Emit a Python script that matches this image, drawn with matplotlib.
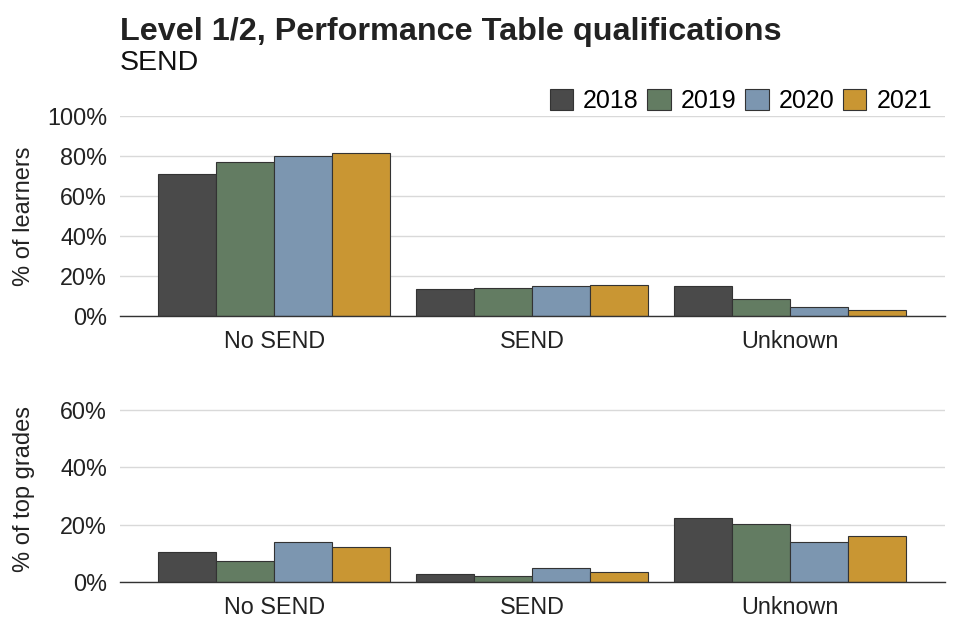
import matplotlib
matplotlib.use("Agg")
import matplotlib.pyplot as plt
import numpy as np
from matplotlib.patches import Patch

plt.rcParams['font.family'] = ['Liberation Sans', 'DejaVu Sans']

categories = ["No SEND", "SEND", "Unknown"]
years = ["2018", "2019", "2020", "2021"]
learners = {
    "2018": [71.0, 13.6, 15.0],
    "2019": [77.2, 13.8, 8.6],
    "2020": [80.0, 14.8, 4.7],
    "2021": [81.5, 15.5, 2.8],
}
top_grades = {
    "2018": [10.4, 2.7, 22.4],
    "2019": [7.4, 2.0, 20.2],
    "2020": [14.1, 4.9, 13.8],
    "2021": [12.2, 3.6, 16.2],
}
colors = ["#4a4a4a", "#637c62", "#7c96b0", "#c99633"]

fig = plt.figure(figsize=(9.6, 6.4), dpi=100)
ax1 = fig.add_axes([119.5/960, 1-316/640, (945-119.5)/960, 200/640])
ax2 = fig.add_axes([119.5/960, 1-582/640, (945-119.5)/960, (65*2.87)/640])

x = np.arange(len(categories))
bw = 0.225

def draw(ax, data, ymax, ticks, ylabel):
    for i, y in enumerate(years):
        ax.bar(x + (i - 1.5) * bw, data[y], width=bw, color=colors[i],
               edgecolor="#333333", linewidth=0.8, zorder=3)
    ax.set_xlim(-0.6, 2.6)
    ax.set_ylim(0, ymax)
    ax.set_yticks(ticks)
    ax.set_yticklabels([f"{t}%" for t in ticks])
    ax.set_xticks(x)
    ax.set_xticklabels(categories)
    ax.grid(axis="y", color="#d9d9d9", linewidth=1, zorder=0)
    for s in ["top", "right", "left"]:
        ax.spines[s].set_visible(False)
    ax.spines["bottom"].set_color("#333333")
    ax.spines["bottom"].set_linewidth(1)
    ax.spines["bottom"].set_zorder(4)
    ax.tick_params(axis="both", length=0, labelsize=16.8, colors="#222222")
    ax.tick_params(axis="x", pad=10)
    ax.tick_params(axis="y", pad=9)
    ax.set_ylabel(ylabel, fontsize=17, color="#222222")

draw(ax1, learners, 100, [0, 20, 40, 60, 80, 100], "% of learners")
draw(ax2, top_grades, 65, [0, 20, 40, 60], "% of top grades")
ax1.yaxis.set_label_coords(-0.102, 0.5)
ax2.yaxis.set_label_coords(-0.102, 0.5)

fig.text(120/960, 1-40/640, "Level 1/2, Performance Table qualifications",
         fontsize=23.3, fontweight="bold", color="#222222", ha="left", va="baseline")
fig.text(120/960, 1-70.5/640, "SEND", fontsize=20.5, color="#111111",
         ha="left", va="baseline")

handles = [Patch(facecolor=c, edgecolor="#333333", linewidth=0.8) for c in colors]
leg = fig.legend(handles, years, loc="center right", bbox_to_anchor=(932/960, 1-101/640),
                 ncol=4, frameon=False, fontsize=18, handlelength=0.95, handleheight=0.95,
                 handletextpad=0.4, columnspacing=0.33, borderaxespad=0, borderpad=0)

fig.savefig("out.png", dpi=100)
